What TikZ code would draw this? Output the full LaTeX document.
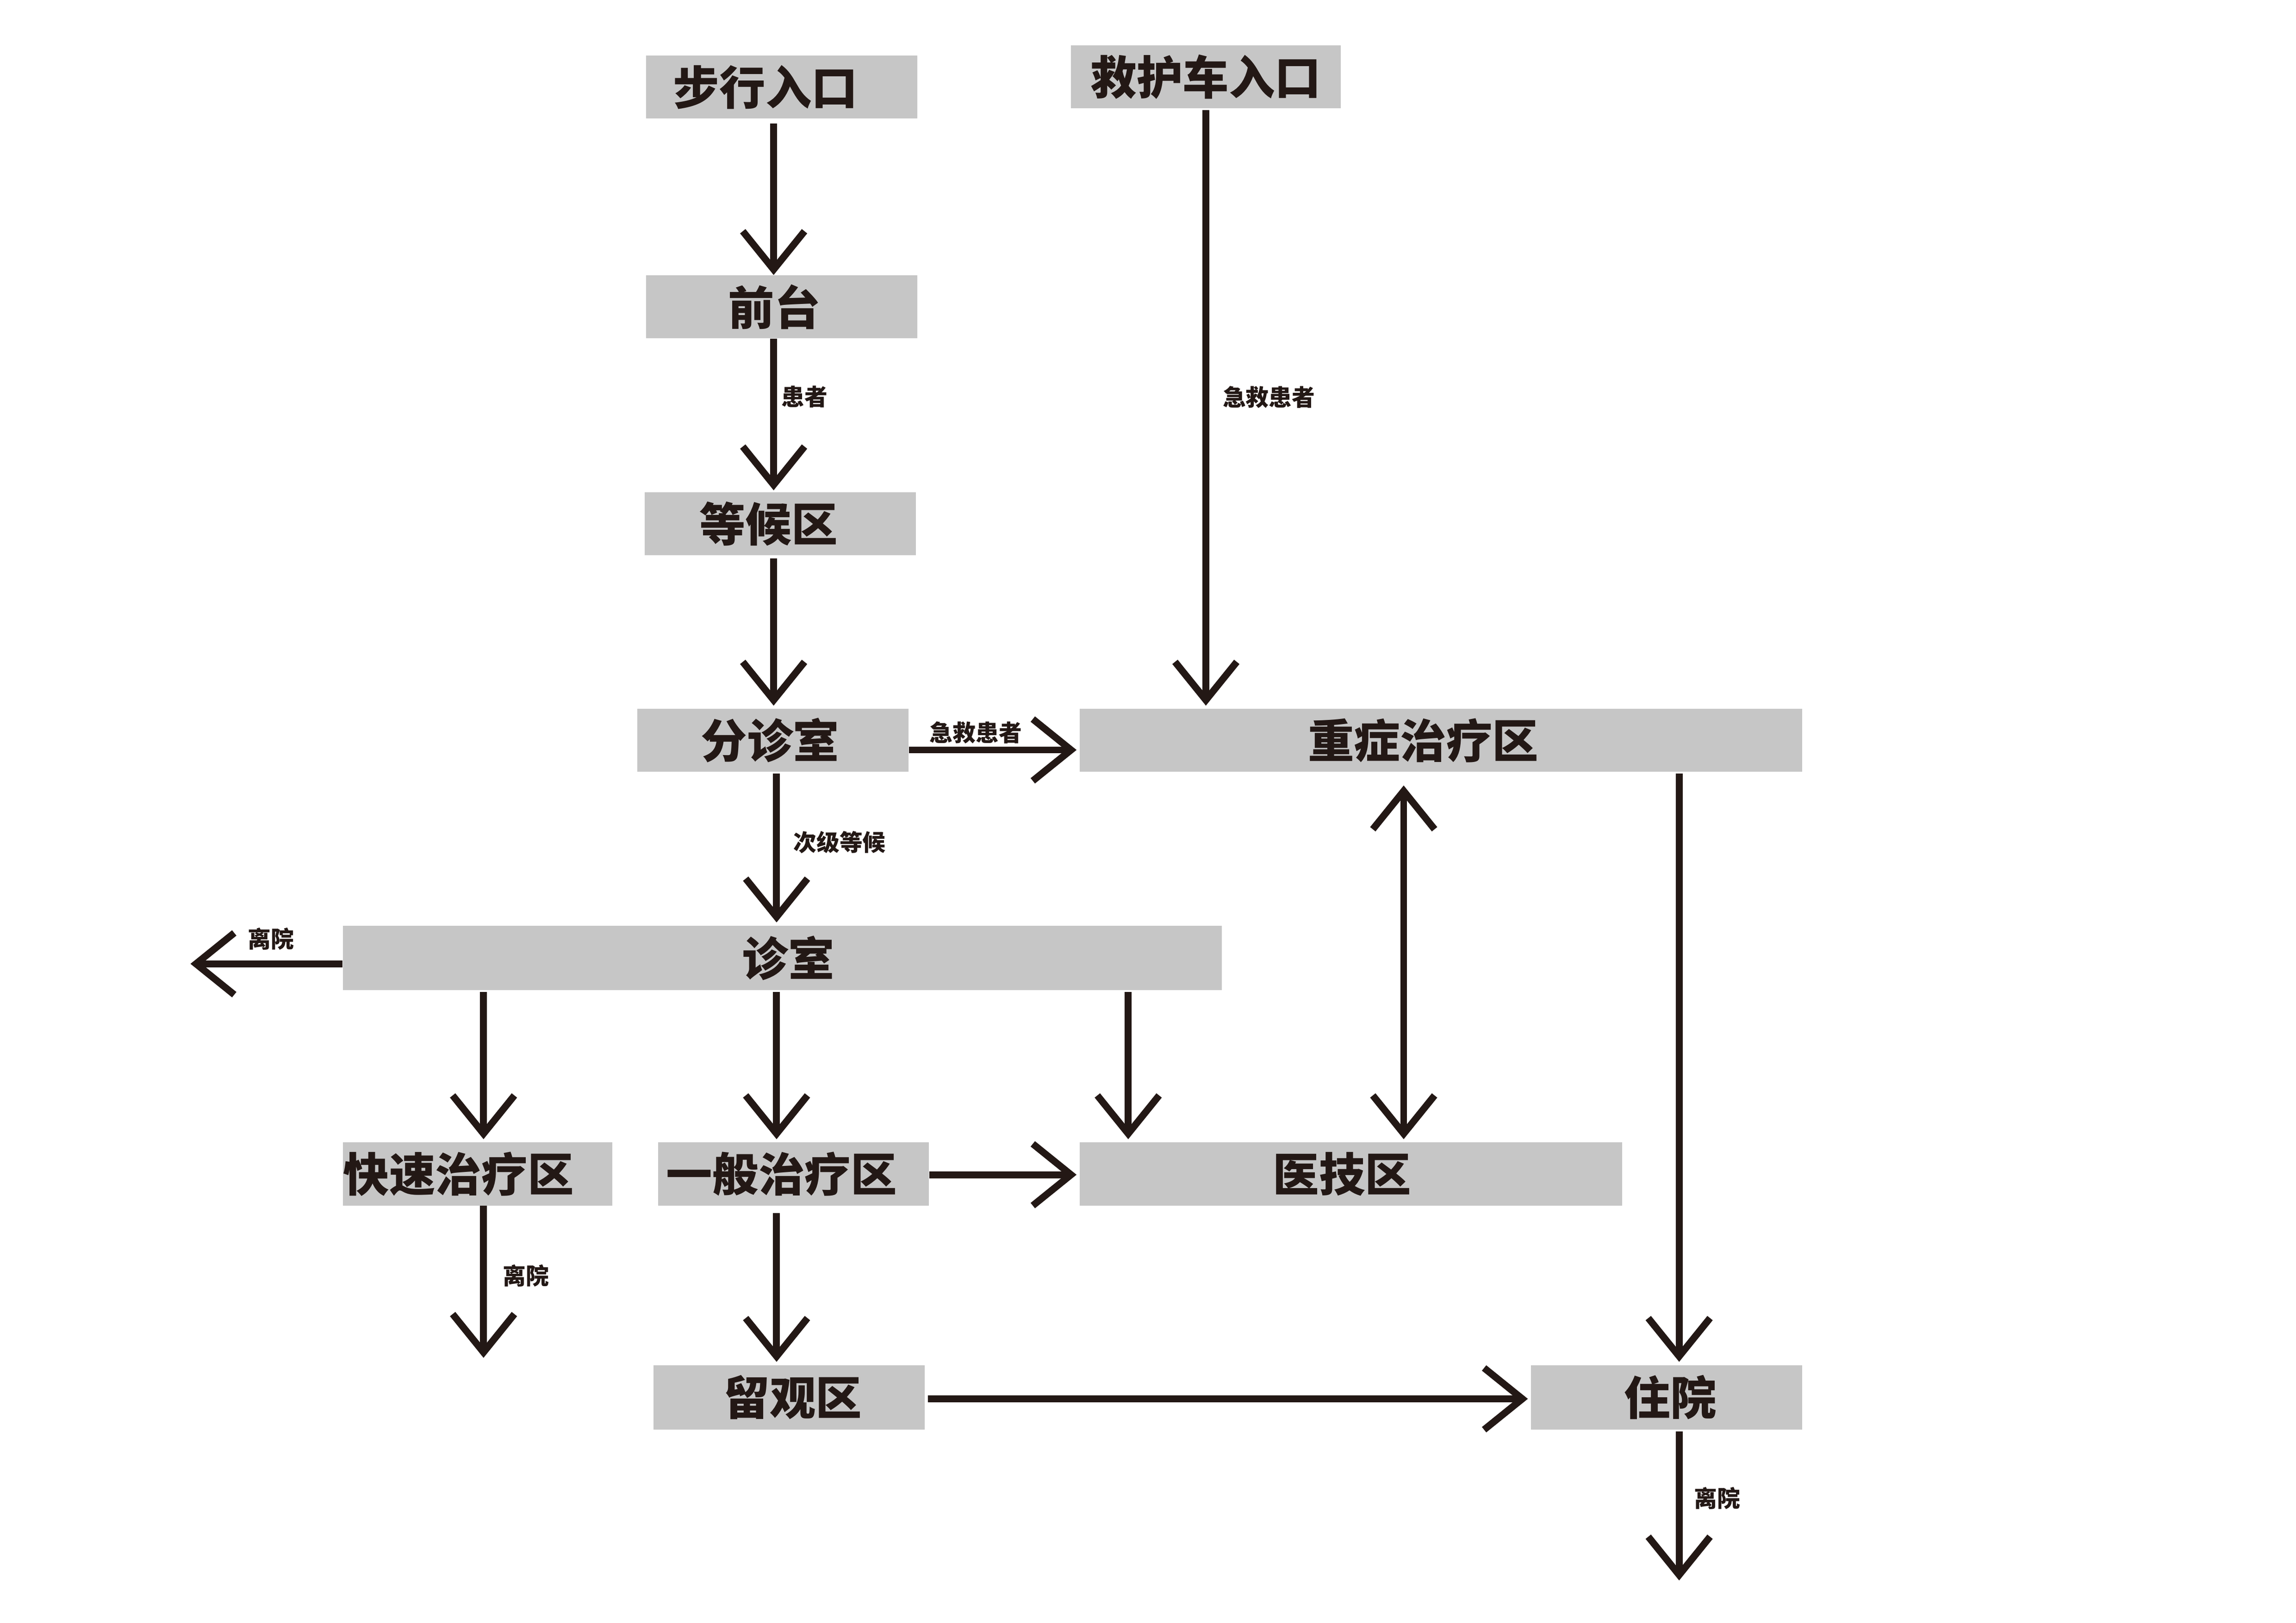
\documentclass[tikz,border=0pt]{standalone}
\usepackage{fontspec}
\setmainfont{Noto Sans CJK SC}
\newfontfamily\cjkb{Noto Sans CJK SC Black}
\usetikzlibrary{arrows.meta}
\definecolor{boxgray}{HTML}{C6C6C6}
\definecolor{ink}{HTML}{231815}
\newcommand\sh[1]{\hspace*{-#1cm}}
\begin{document}
\begin{tikzpicture}[x=0.026803cm,y=-0.026803cm,
  box/.style={fill=boxgray, inner sep=0pt, text=ink, font=\cjkb\fontsize{24}{24}\selectfont},
  lab/.style={inner sep=0pt, text=ink, font=\cjkb\fontsize{12}{12}\selectfont},
  arr/.style={draw=ink, line width=3.6pt, -{Straight Barb[sharp,length=0.7cm,width=1.13cm]}},
  darr/.style={draw=ink, line width=3.6pt, {Straight Barb[sharp,length=0.7cm,width=1.13cm]}-{Straight Barb[sharp,length=0.7cm,width=1.13cm]}}]
\useasboundingbox (0,0) rectangle (1567,1108);
\fill[white] (0,0) rectangle (1567,1108);
% boxes
\node[box, minimum width=185*0.026803cm, minimum height=43*0.026803cm] (walk) at (533.5,59.5) {\sh{0.59}步行入口};
\node[box, minimum width=184*0.026803cm, minimum height=43*0.026803cm] (amb) at (823,52.5) {救护车入口};
\node[box, minimum width=185*0.026803cm, minimum height=43*0.026803cm] (front) at (533.5,209.5) {\sh{0.27}前台};
\node[box, minimum width=185*0.026803cm, minimum height=43*0.026803cm] (wait) at (532.5,357.5) {\sh{0.43}等候区};
\node[box, minimum width=185*0.026803cm, minimum height=43*0.026803cm] (triage) at (527.5,505.5) {\sh{0.1}分诊室};
\node[box, minimum width=493*0.026803cm, minimum height=43*0.026803cm] (icu) at (983.5,505.5) {\sh{0.65}重症治疗区};
\node[box, minimum width=600*0.026803cm, minimum height=44*0.026803cm] (clinic) at (534,654) {\hspace*{0.22cm}诊室};
\node[box, minimum width=184*0.026803cm, minimum height=43*0.026803cm] (fast) at (326,801.5) {\sh{0.70}快速治疗区};
\node[box, minimum width=185*0.026803cm, minimum height=43*0.026803cm] (gen) at (541.5,801.5) {\sh{0.43}一般治疗区};
\node[box, minimum width=370*0.026803cm, minimum height=43*0.026803cm] (tech) at (922,801.5) {\sh{0.32}医技区};
\node[box, minimum width=185*0.026803cm, minimum height=44*0.026803cm] (obs) at (538.5,954) {\hspace*{0.14cm}留观区};
\node[box, minimum width=185*0.026803cm, minimum height=44*0.026803cm] (hosp) at (1137.5,954) {\hspace*{0.14cm}住院};
% labels
\node[lab] (l1) at (549,271) {患者};
\node[lab] (l2) at (866,271) {急救患者};
\node[lab] (l3) at (666,500) {急救患者};
\node[lab] (l4) at (573,575) {次级等候};
\node[lab] (l5) at (185,641) {离院};
\node[lab] (l6) at (359,871) {离院};
\node[lab] (l7) at (1172,1023) {离院};
% free ends
\coordinate (e1) at (130,658);
\coordinate (e2) at (330,927);
\coordinate (e3) at (1146,1079);
% connectors
\draw[arr, shorten <=3*0.026803cm] (walk.south -| 528,0) -- (front.north -| 528,0);
\draw[arr, shorten <=1*0.026803cm, shorten >=2*0.026803cm] (amb.south -| 823,0) -- (icu.north -| 823,0);
\draw[arr, shorten >=1*0.026803cm] (front.south -| 528,0) -- (wait.north -| 528,0);
\draw[arr, shorten <=2*0.026803cm, shorten >=2*0.026803cm] (wait.south -| 528,0) -- (triage.north -| 528,0);
\draw[arr, shorten >=2*0.026803cm] (triage.east |- 0,512) -- (icu.west |- 0,512);
\draw[arr, shorten <=1*0.026803cm, shorten >=2*0.026803cm] (triage.south -| 530,0) -- (clinic.north -| 530,0);
\draw[arr] (clinic.west |- 0,658) -- (e1);
\draw[arr, shorten <=1*0.026803cm, shorten >=2*0.026803cm] (clinic.south -| 330,0) -- (fast.north -| 330,0);
\draw[arr, shorten <=1*0.026803cm, shorten >=2*0.026803cm] (clinic.south -| 530,0) -- (gen.north -| 530,0);
\draw[arr, shorten <=1*0.026803cm, shorten >=2*0.026803cm] (clinic.south -| 770,0) -- (tech.north -| 770,0);
\draw[darr, shorten <=9*0.026803cm, shorten >=2*0.026803cm] (icu.south -| 958,0) -- (tech.north -| 958,0);
\draw[arr, shorten >=2*0.026803cm] (gen.east |- 0,802) -- (tech.west |- 0,802);
\draw[arr, shorten <=1*0.026803cm, shorten >=2*0.026803cm] (icu.south -| 1146,0) -- (hosp.north -| 1146,0);
\draw[arr] (fast.south -| 330,0) -- (e2);
\draw[arr, shorten <=5*0.026803cm, shorten >=2*0.026803cm] (gen.south -| 530,0) -- (obs.north -| 530,0);
\draw[arr, shorten <=2*0.026803cm, shorten >=2*0.026803cm] (obs.east |- 0,955) -- (hosp.west |- 0,955);
\draw[arr, shorten <=1*0.026803cm] (hosp.south -| 1146,0) -- (e3);
\end{tikzpicture}
\end{document}
